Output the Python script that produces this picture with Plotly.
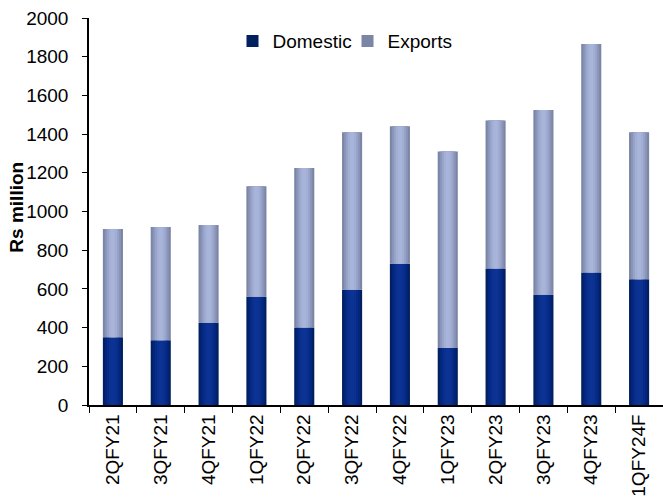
import plotly.graph_objects as go

quarters = ["2QFY21", "3QFY21", "4QFY21", "1QFY22", "2QFY22", "3QFY22",
            "4QFY22", "1QFY23", "2QFY23", "3QFY23", "4QFY23", "1QFY24F"]
domestic = [350, 335, 425, 560, 400, 595, 730, 295, 705, 570, 685, 650]
exports = [560, 585, 505, 570, 825, 815, 710, 1015, 765, 955, 1180, 760]

# Cylinder-like shading: each series is drawn as nested bars, darkest and
# widest at the back, lighter and narrower towards the centre.
bar_width = 0.42
dom_shades = ["#00205f", "#03257a", "#062b88", "#0a3190", "#0c3394"]
exp_shades = ["#7b86a6", "#8994b8", "#97a3c8", "#a2aed4", "#a8b4da"]

fig = go.Figure()
n = len(dom_shades)
for i in range(n):
    w = bar_width * (1 - i / n)
    fig.add_trace(go.Bar(
        x=quarters, y=domestic, width=w, name="Domestic",
        marker=dict(color=dom_shades[i], line=dict(width=0)),
        showlegend=(i == 0), legendgroup="dom",
    ))
for i in range(n):
    w = bar_width * (1 - i / n)
    fig.add_trace(go.Bar(
        x=quarters, y=exports, base=domestic, width=w, name="Exports",
        marker=dict(color=exp_shades[i], line=dict(width=0)),
        showlegend=(i == 0), legendgroup="exp",
    ))

font = "Liberation Sans, Arial, sans-serif"
fig.update_layout(
    width=663, height=499,
    margin=dict(l=89, r=0, t=18, b=94),
    barmode="overlay",
    plot_bgcolor="white", paper_bgcolor="white",
    font=dict(family=font, size=19, color="black"),
    showlegend=True,
    legend=dict(orientation="h", x=0.25, y=0.94, xanchor="left", yanchor="middle",
                font=dict(size=19), bgcolor="rgba(0,0,0,0)",
                entrywidth=70, entrywidthmode="pixels",
                tracegroupgap=0, itemsizing="constant"),
    xaxis=dict(
        showline=True, linecolor="black", linewidth=1.5,
        ticks="outside", ticklen=6, tickcolor="black", tickson="boundaries",
        tickangle=-90, tickfont=dict(size=19), showgrid=False,
        range=[-0.5, len(quarters) - 0.5],
    ),
    yaxis=dict(
        range=[0, 2000], dtick=200, showline=True, linecolor="black", linewidth=1.5,
        ticks="outside", ticklen=5, tickcolor="black", showgrid=False,
        tickfont=dict(size=19), zeroline=False, ticklabelstandoff=10,
    ),
    annotations=[dict(
        text="<b>Rs million</b>", textangle=-90, showarrow=False,
        xref="paper", yref="paper", x=0, y=0.51, xanchor="center", yanchor="middle",
        xshift=-72, font=dict(size=19),
    )],
)

fig.write_html("out.html")
